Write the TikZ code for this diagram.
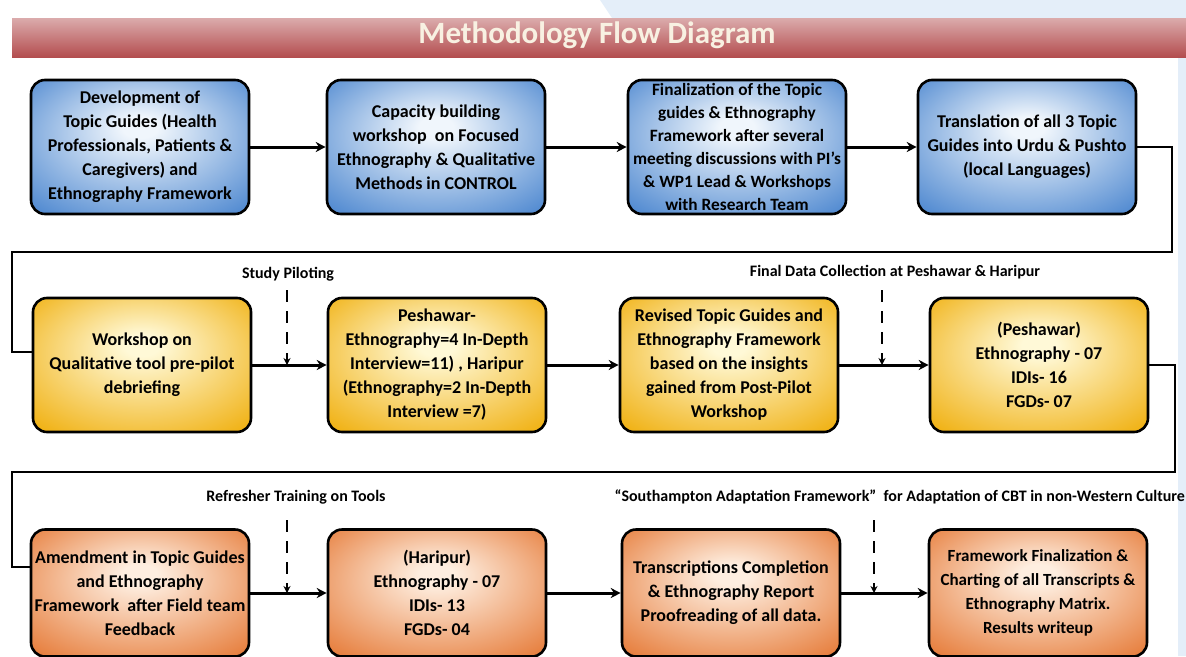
\documentclass[tikz,border=0pt]{standalone}
\usepackage{fontspec}
\setmainfont{Carlito}
\usetikzlibrary{arrows.meta,positioning}
\definecolor{bluebox}{RGB}{78,136,208}
\definecolor{blueinner}{RGB}{240,246,252}
\definecolor{yellowbox}{RGB}{240,176,16}
\definecolor{yellowinner}{RGB}{255,249,215}
\definecolor{orangebox}{RGB}{230,124,58}
\definecolor{orangeinner}{RGB}{254,238,224}
\definecolor{titlered}{RGB}{166,46,48}
\definecolor{titletext}{RGB}{248,241,226}
\definecolor{paleblue}{RGB}{228,238,249}
\pgfdeclareradialshading{blueglow}{\pgfpoint{0bp}{8bp}}{color(0bp)=(blueinner); color(4bp)=(blueinner); color(36bp)=(bluebox); color(50bp)=(bluebox)}
\pgfdeclareradialshading{yellowglow}{\pgfpoint{0bp}{8bp}}{color(0bp)=(yellowinner); color(4bp)=(yellowinner); color(36bp)=(yellowbox); color(50bp)=(yellowbox)}
\pgfdeclareradialshading{orangeglow}{\pgfpoint{0bp}{8bp}}{color(0bp)=(orangeinner); color(4bp)=(orangeinner); color(36bp)=(orangebox); color(50bp)=(orangebox)}

\begin{document}
\begin{tikzpicture}[x=1pt,y=-1pt,
        on grid,node distance=296pt,>={Stealth[round]},
        box/.style={draw=black,line width=2.6pt,rounded corners=14pt,minimum width=218pt,
            minimum height=134pt,align=center,inner sep=2pt,
            font=\fontsize{18}{24}\selectfont\bfseries},
        bluestep/.style={box,shading=blueglow},
        yellowstep/.style={box,shading=yellowglow},
        orangestep/.style={box,shading=orangeglow,minimum height=127pt},
        flow/.style={->,line width=3pt,>={Stealth[length=10pt,width=10pt]}},
        wrap/.style={line width=1.4pt},
        hint/.style={->,line width=2pt,dash pattern=on 12pt off 9pt,>={Stealth[length=7pt,width=7pt]}},
        note/.style={font=\fontsize{16}{19}\selectfont\bfseries},
        ]
        \useasboundingbox (0,0) rectangle (1186,656);
        \fill[white] (0,0) rectangle (1186,656);
        \fill[paleblue] (600,0) -- (1186,0) -- (1186,656) -- (1178,656) -- (1178,18) -- (612,18) -- cycle;

        % title bar
        \shade[top color=titlered!40!white,middle color=titlered,bottom color=titlered!85!white]
            (12,18) rectangle (1186,57);
        \node[font=\fontsize{31}{36}\selectfont\bfseries,text=titletext] (title) at (597,35) {Methodology Flow Diagram};

        % row 1
        \node[bluestep] (s_1) at (140,147) {Development of\\Topic Guides (Health\\Professionals, Patients \&\\Caregivers) and\\Ethnography Framework};
        \node[bluestep] (s_2) [right=of s_1] {Capacity building\\workshop\ \ on Focused\\Ethnography \& Qualitative\\Methods in CONTROL};
        \node[bluestep,font=\fontsize{17.3}{23}\selectfont\bfseries] (s_3) [right=301pt of s_2] {Finalization of the Topic\\guides \& Ethnography\\Framework after several\\meeting discussions with PI’s\\\& WP1 Lead \& Workshops\\with Research Team};
        \node[bluestep] (s_4) [right=290pt of s_3] {Translation of all 3 Topic\\Guides into Urdu \& Pushto\\(local Languages)};

        % row 2
        \node[yellowstep] (s_5) at (142,365) {Workshop on\\Qualitative tool pre-pilot\\debriefing};
        \node[yellowstep] (s_6) [right=295pt of s_5] {Peshawar-\\Ethnography=4 In-Depth\\Interview=11) , Haripur\\(Ethnography=2 In-Depth\\Interview =7)};
        \node[yellowstep] (s_7) [right=292pt of s_6] {Revised Topic Guides and\\Ethnography Framework\\based on the insights\\gained from Post-Pilot\\Workshop};
        \node[yellowstep] (s_8) [right=310pt of s_7] {(Peshawar)\\Ethnography - 07\\IDIs- 16\\FGDs- 07};

        % row 3
        \node[orangestep] (s_9) at (140,593) {Amendment in Topic Guides\\and Ethnography\\Framework\ \ after Field team\\Feedback};
        \node[orangestep] (s_10) [right=297pt of s_9] {(Haripur)\\Ethnography - 07\\IDIs- 13\\FGDs- 04};
        \node[orangestep] (s_11) [right=294pt of s_10] {Transcriptions Completion\\\& Ethnography Report\\Proofreading of all data.};
        \node[orangestep,font=\fontsize{17}{24}\selectfont\bfseries] (s_12) [right=307pt of s_11] {Framework Finalization \&\\Charting of all Transcripts \&\\Ethnography Matrix.\\Results writeup};

        % labels over the dashed arrows
        \node[note] (l_1) at (288,274) {Study Piloting};
        \node[note] (l_2) at (895,272) {Final Data Collection at Peshawar \& Haripur};
        \node[note] (l_3) at (296,497) {Refresher Training on Tools};
        \node[note,anchor=west] (l_4) at (611,497) {“Southampton Adaptation Framework”\ \ for Adaptation of CBT in non-Western Culture};
        \coordinate (d_1) at (287,290);
        \coordinate (d_2) at (882,290);
        \coordinate (d_3) at (287,520);
        \coordinate (d_4) at (874,520);

        % turns between rows
        \coordinate (e_1) at (1172,252);
        \coordinate (w_1) at (12,252);
        \coordinate (e_2) at (1175,472);
        \coordinate (w_2) at (12,472);

        \draw[flow] (s_1) -- (s_2);
        \draw[flow] (s_2) -- (s_3);
        \draw[flow] (s_3) -- (s_4);
        \draw[wrap] (s_4.east) -| (e_1) -- (w_1) |- ([yshift=13pt]s_5.west);
        \draw[flow] (s_5) -- (s_6);
        \draw[flow] (s_6) -- (s_7);
        \draw[flow] (s_7) -- (s_8);
        \draw[wrap] (s_8.east) -| (e_2) -- (w_2) |- ([yshift=26pt]s_9.west);
        \draw[flow] (s_9) -- (s_10);
        \draw[flow] (s_10) -- (s_11);
        \draw[flow] (s_11) -- (s_12);

        \draw[hint] (d_1) -- (d_1 |- s_5.east);
        \draw[hint] (d_2) -- (d_2 |- s_7.east);
        \draw[hint] (d_3) -- (d_3 |- s_9.east);
        \draw[hint] (d_4) -- (d_4 |- s_11.east);
\end{tikzpicture}
\end{document}
